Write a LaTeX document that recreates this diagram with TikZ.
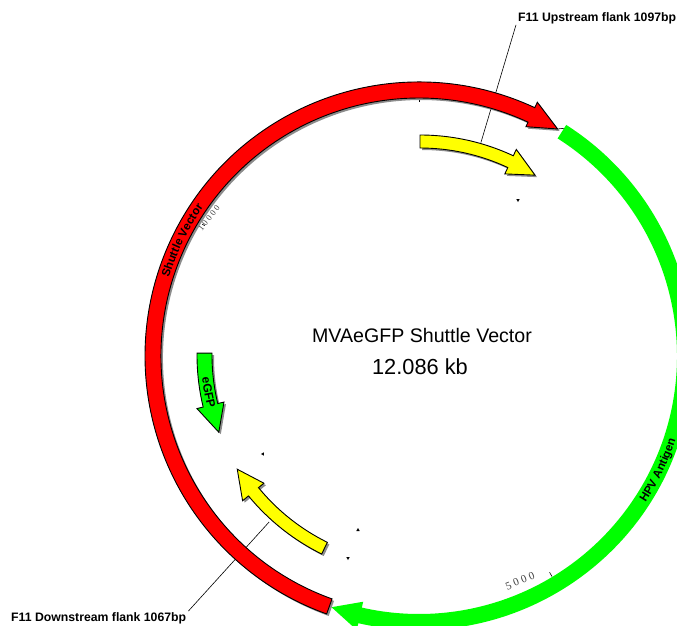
\documentclass[tikz,border=0pt]{standalone}
\usepackage{fontspec}
\setmainfont{Liberation Sans}
\newfontfamily\tickfont{Liberation Serif}
\usetikzlibrary{shapes.geometric,decorations.text}
\definecolor{vecred}{RGB}{255,0,0}
\definecolor{vecgreen}{RGB}{0,255,0}
\definecolor{vecyellow}{RGB}{255,255,0}
% #1 start angle, #2 neck angle, #3 tip angle, #4 inner r, #5 outer r, #6 head inner r, #7 head outer r
\newcommand{\arcpath}[7]{(#1:#4) arc[start angle=#1, end angle=#2, radius=#4] -- (#2:#6) -- (#3:{(#4+#5)/2}) -- (#2:#7) -- (#2:#5) arc[start angle=#2, end angle=#1, radius=#5] -- cycle}
\newcommand{\featarrow}[8]{%
  \fill[arrowshadow, shift={(2,-2)}] \arcpath{#2}{#3}{#4}{#5}{#6}{#7}{#8};
  \draw[featbox, fill=#1] \arcpath{#2}{#3}{#4}{#5}{#6}{#7}{#8};}
\begin{document}
\begin{tikzpicture}[
  x=1pt, y=1pt,
  featbox/.style={draw=black, line width=0.9pt, line join=miter},
  arrowshadow/.style={black!45},
  flanklabel/.style={font=\fontsize{12.25}{14}\selectfont\bfseries, inner sep=0pt},
  titlelabel/.style={inner sep=0pt},
  leader/.style={draw=black, line width=0.6pt},
  ticklabel/.style={text=black!75, inner sep=0pt},
  tickmark/.style={draw=black, line width=0.6pt},
  sitemark/.style={regular polygon, regular polygon sides=3, fill=black, inner sep=0pt, minimum size=4pt},
]
\clip (-420,-270) rectangle (257,355);

% ===================== centre title =====================
\node[titlelabel, font=\fontsize{19.6}{23}\selectfont] (title) at (2,20) {MVAeGFP Shuttle Vector};
\node[titlelabel, font=\fontsize{21.8}{26}\selectfont] (size) at (0,-12) {12.086 kb};

% ===================== flank labels and leaders =====================
\node[flanklabel, anchor=west] (upstream) at (98,337) {F11 Upstream flank 1097bp};
\node[flanklabel, anchor=west] (downstream) at (-409,-263) {F11 Downstream flank 1067bp};
\coordinate (upanchor) at (74:221);
\coordinate (downanchor) at (227.9:225);
\draw[leader] ([xshift=-2pt,yshift=-1pt]upstream.south west) -- (upanchor);
\draw[leader] ([xshift=2pt,yshift=1pt]downstream.north east) -- (downanchor);

% ===================== ticks and scale numbers =====================
\node[ticklabel, font=\fontsize{8.5}{10}\tickfont, rotate=52] (tickten) at (-211,137) {1 0 0 0 0};
\node[ticklabel, font=\fontsize{11}{13}\tickfont, rotate=22] (tickfive) at (100,-226) {5 0 0 0};
\draw[tickmark] (-1,255) -- (-1,253.5);
\draw[tickmark] (-59.2:253) -- (-59.2:258);
\draw[tickmark] (149:254) -- (149:251);

% ===================== small site marks =====================
\node[sitemark, rotate=180] (siteA) at (98,155) {};
\node[sitemark, rotate=90] (siteB) at (-157,-99) {};
\node[sitemark] (siteC) at (-62,-175) {};
\node[sitemark, rotate=60] (siteD) at (-72,-203) {};

% ===================== plasmid backbone =====================
\begin{scope}[shift={(-1,-1)}]
\fill[vecgreen] \arcpath{57.5}{-102.8}{-109.2}{258}{274}{252}{281};
\featarrow{vecred}{250.3}{65}{58.6}{258}{274}{253}{280}
\draw[leader] (58.6:266) -- (57.5:270);

% ===================== names on the arcs =====================
\path[decorate, decoration={text along path, text align=center, text={|\fontsize{11.6}{13}\selectfont\bfseries|Shuttle Vector}}]
  (163:262) arc[start angle=163, end angle=145, radius=262];
\path[decorate, decoration={text along path, text align=center, text={|\fontsize{11.6}{13}\selectfont\bfseries|HPV Antigen}}]
  (-36:270) arc[start angle=-36, end angle=-15, radius=270];
\end{scope}

% ===================== inner features =====================
\featarrow{vecyellow}{90}{64.9}{57.4}{207}{220}{200}{227}
\featarrow{vecyellow}{-116.3}{-140.6}{-148}{209}{222}{202}{229.6}
\featarrow{vecgreen}{179.5}{193.5}{201}{208}{223}{201.6}{229.4}
\path[decorate, decoration={text along path, text align=center, text={|\fontsize{12}{14}\selectfont\bfseries|eGFP}}]
  (184:219) arc[start angle=184, end angle=196, radius=219];
\end{tikzpicture}
\end{document}
